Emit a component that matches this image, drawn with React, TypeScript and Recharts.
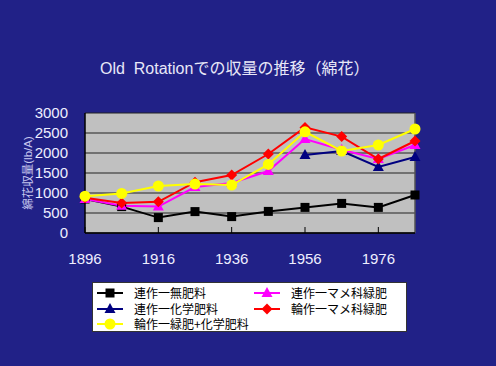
import React from "react";
import { LineChart, Line, XAxis, YAxis, CartesianGrid, ReferenceLine } from "recharts";

const years = [1896, 1906, 1916, 1926, 1936, 1946, 1956, 1966, 1976, 1986];
const tickYears = [1896, 1916, 1936, 1956, 1976];
const yTicks = [0, 500, 1000, 1500, 2000, 2500, 3000];

const noFert = [850, 660, 385, 535, 410, 540, 640, 740, 640, 950];
const chemFert = [null, null, null, null, null, null, 1950, 2050, 1650, 1900];
const legumeCont = [850, 680, 660, 1150, 1250, 1550, 2350, 2080, 1850, 2200];
const legumeRot = [880, 750, 780, 1270, 1450, 1975, 2640, 2410, 1850, 2300];
const legumeChemRot = [920, 990, 1175, 1225, 1200, 1715, 2530, 2050, 2200, 2600];

const data = years.map((year, i) => ({
    year,
    noFert: noFert[i],
    chemFert: chemFert[i],
    legumeCont: legumeCont[i],
    legumeRot: legumeRot[i],
    legumeChemRot: legumeChemRot[i],
}));

type Shape = "square" | "triangle" | "diamond" | "circle";

const series: { key: string; name: string; color: string; shape: Shape }[] = [
    { key: "noFert", name: "連作一無肥料", color: "#000000", shape: "square" },
    { key: "chemFert", name: "連作一化学肥料", color: "#000080", shape: "triangle" },
    { key: "legumeCont", name: "連作一マメ科緑肥", color: "#ff00ff", shape: "triangle" },
    { key: "legumeRot", name: "輪作一マメ科緑肥", color: "#ff0000", shape: "diamond" },
    { key: "legumeChemRot", name: "輪作一緑肥+化学肥料", color: "#ffff00", shape: "circle" },
];

const BG = "#212187";
const FONT = "'Liberation Sans', 'Noto Sans CJK JP', sans-serif";

function Marker({ shape, color, cx, cy }: { shape: Shape; color: string; cx: number; cy: number }) {
    if (shape === "square") return <rect x={cx - 4.5} y={cy - 4.5} width={9} height={9} fill={color} />;
    if (shape === "circle") return <circle cx={cx} cy={cy} r={5.5} fill={color} />;
    if (shape === "diamond")
        return <polygon points={`${cx},${cy - 5.5} ${cx + 5.5},${cy} ${cx},${cy + 5.5} ${cx - 5.5},${cy}`} fill={color} />;
    return <polygon points={`${cx},${cy - 6} ${cx + 5.5},${cy + 4} ${cx - 5.5},${cy + 4}`} fill={color} />;
}

const makeDot = (shape: Shape, color: string) => (props: any) => {
    const { cx, cy, key, index } = props;
    if (cx == null || cy == null || props.value == null) return <g key={key ?? index} />;
    return (
        <g key={key ?? index}>
            <Marker shape={shape} color={color} cx={cx} cy={cy} />
        </g>
    );
};

// legend laid out like the original: two columns
const legendPos = [
    { left: 4, top: 3 },
    { left: 4, top: 18.5 },
    { left: 161, top: 3 },
    { left: 161, top: 18.5 },
    { left: 4, top: 34 },
];

export default function App() {
    return (
        <div style={{ position: "absolute", left: 0, top: 0, width: 496, height: 366, background: BG, fontFamily: FONT }}>
            <div
                style={{
                    position: "absolute",
                    left: 100,
                    top: 60,
                    fontSize: 16,
                    lineHeight: "18px",
                    color: "#e8e8f8",
                    whiteSpace: "pre",
                }}
            >
                {"Old  Rotationでの収量の推移（綿花）"}
            </div>

            <LineChart width={496} height={366} data={data} margin={{ top: 113, right: 81, left: 0, bottom: 103 }}>
                <CartesianGrid vertical={false} fill="#c0c0c0" fillOpacity={1} stroke="#222" strokeWidth={1} />
                <XAxis
                    dataKey="year"
                    type="number"
                    domain={[1896, 1986]}
                    ticks={tickYears}
                    height={30}
                    axisLine={{ stroke: "#000", strokeWidth: 1.5 }}
                    tickLine={{ stroke: "#000" }}
                    tickSize={-6}
                    tickMargin={26}
                    tick={{ fill: "#eeeeff", fontSize: 15, fontFamily: FONT }}
                />
                <YAxis
                    domain={[0, 3000]}
                    ticks={yTicks}
                    width={85}
                    interval={0}
                    axisLine={{ stroke: "#000", strokeWidth: 1.5 }}
                    tickLine={false}
                    tickMargin={11}
                    tick={{ fill: "#eeeeff", fontSize: 15, fontFamily: FONT }}
                    label={{
                        value: "綿花収量(lb/A)",
                        angle: -90,
                        position: "center",
                        dx: -15,
                        fill: "#c8c8f0",
                        fontSize: 11.5,
                        fontFamily: FONT,
                    }}
                />
                <ReferenceLine x={1986} stroke="#555" strokeWidth={1.5} ifOverflow="visible" />
                {series.map((s) => (
                    <Line
                        key={s.key}
                        dataKey={s.key}
                        name={s.name}
                        stroke={s.color}
                        strokeWidth={2}
                        dot={makeDot(s.shape, s.color)}
                        activeDot={false}
                        connectNulls={false}
                        isAnimationActive={false}
                    />
                ))}
            </LineChart>

            <div
                style={{
                    position: "absolute",
                    left: 92,
                    top: 282,
                    width: 313,
                    height: 48,
                    background: "#fff",
                    border: "1px solid #333",
                }}
            >
                {series.map((s, i) => (
                    <div
                        key={s.key}
                        style={{
                            position: "absolute",
                            left: legendPos[i].left,
                            top: legendPos[i].top,
                            height: 14,
                            display: "flex",
                            alignItems: "center",
                            whiteSpace: "nowrap",
                        }}
                    >
                        <svg width={26} height={14} style={{ marginRight: 11 }}>
                            <line x1={0} y1={7} x2={26} y2={7} stroke={s.color} strokeWidth={2} />
                            <Marker shape={s.shape} color={s.color} cx={13} cy={7} />
                        </svg>
                        <span
                            style={{
                                fontSize: 12,
                                lineHeight: "14px",
                                color: "#000",
                                fontFamily: "'Noto Sans CJK JP', sans-serif",
                            }}
                        >
                            {s.name}
                        </span>
                    </div>
                ))}
            </div>
        </div>
    );
}
